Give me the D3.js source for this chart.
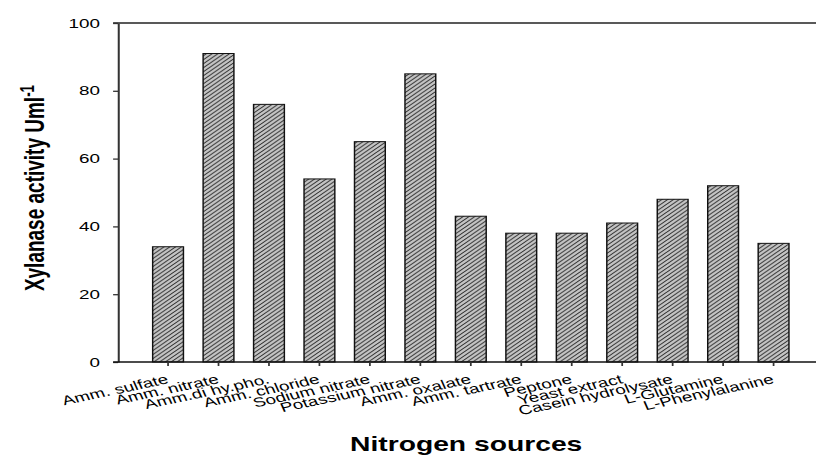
<!DOCTYPE html>
<html>
<head>
<meta charset="utf-8">
<script src="https://cdn.jsdelivr.net/npm/d3@7"></script>
<style>
  body { margin: 0; background: #fff; }
  text { font-family: "Liberation Sans", Arial, sans-serif; fill: #000; }
</style>
</head>
<body>
<svg id="chart" width="816" height="456"></svg>
<script>
const sources = ["Amm. sulfate", "Amm. nitrate", "Amm.di hy.pho.", "Amm. chloride",
    "Sodium nitrate", "Potassium nitrate", "Amm. oxalate", "Amm. tartrate",
    "Peptone", "Yeast extract", "Casein hydrolysate", "L-Glutamine", "L-Phenylalanine"]
const activity = [34, 91, 76, 54, 65, 85, 43, 38, 38, 41, 48, 52, 35]
const yTicks = [0, 20, 40, 60, 80, 100]

// the original picture is stretched sideways, so draw narrow and scale x
const sx = 1.45
const width = 816 / sx,
    height = 456

const svg = d3.select("#chart")
const g = svg.append("g").attr("transform", "scale(" + sx + ",1)")

const defs = svg.append("defs")
defs.append("pattern")
    .attr("id", "hatch")
    .attr("patternUnits", "userSpaceOnUse")
    .attr("width", 4)
    .attr("height", 4)
    .call(p => {
        p.append("rect").attr("width", 4).attr("height", 4).attr("fill", "#c4c4c4")
        p.append("path")
            .attr("d", "M-1,1 l2,-2 M0,4 l4,-4 M3,5 l2,-2")
            .attr("stroke", "#222")
            .attr("stroke-width", 0.8)
    })

const plotLeft = 81.4, plotTop = 23, plotBottom = 362

const x = d3.scaleBand()
    .domain(sources)
    .range([98.5, 98.5 + 13 * 34.8])
    .paddingInner(0.39)
    .paddingOuter(0.195)

const y = d3.scaleLinear().domain([0, 100]).range([plotBottom, plotTop])

// top frame line
g.append("line")
    .attr("x1", plotLeft - 3.4).attr("x2", width)
    .attr("y1", y(100)).attr("y2", y(100))
    .attr("stroke", "#222").attr("stroke-width", 1.3)

// bars
g.append("g")
    .selectAll("rect")
    .data(activity)
    .enter()
    .append("rect")
    .attr("x", (d, i) => x(sources[i]))
    .attr("y", d => y(d))
    .attr("width", x.bandwidth())
    .attr("height", d => y(0) - y(d))
    .attr("fill", "url(#hatch)")
    .attr("stroke", "#111")
    .attr("stroke-width", 1)

// y axis
const yAxis = g.append("g")
    .attr("transform", "translate(" + plotLeft + ",0)")
    .call(d3.axisLeft(y).tickValues(yTicks).tickSize(3.4).tickPadding(9).tickSizeOuter(0))
yAxis.select(".domain").attr("stroke", "#333").attr("stroke-width", 1.4)
yAxis.selectAll(".tick line").attr("stroke", "#333").attr("stroke-width", 1.3)
yAxis.selectAll("text").style("font-size", "13px").attr("fill", "#000")

// x axis
const xAxis = g.append("g")
    .attr("transform", "translate(0," + plotBottom + ")")
    .call(d3.axisBottom(x).tickSize(4).tickSizeOuter(0))
xAxis.select(".domain").attr("d", "M" + (plotLeft - 3.4) + ",0H" + width)
    .attr("stroke", "#111").attr("stroke-width", 1.3)
xAxis.selectAll(".tick line").attr("stroke", "#333").attr("stroke-width", 1.2)
xAxis.selectAll("text")
    .style("font-size", "13px")
    .attr("fill", "#000")
    .attr("text-anchor", "end")
    .attr("dy", null)
    .attr("y", 0)
    .attr("transform", "translate(1,21) rotate(-17)")

// axis titles
const yTitle = g.append("text")
    .attr("transform", "translate(30.5," + 188 + ") rotate(-90)")
    .attr("text-anchor", "middle")
    .style("font-size", "19px")
    .style("font-weight", "bold")
yTitle.append("tspan").text("Xylanase activity Uml")
yTitle.append("tspan").attr("dy", "-0.5em").style("font-size", "13.5px").text("-1")

g.append("text")
    .attr("x", 321.5)
    .attr("y", 451)
    .attr("text-anchor", "middle")
    .style("font-size", "19.5px")
    .style("font-weight", "bold")
    .text("Nitrogen sources")
</script>
</body>
</html>
